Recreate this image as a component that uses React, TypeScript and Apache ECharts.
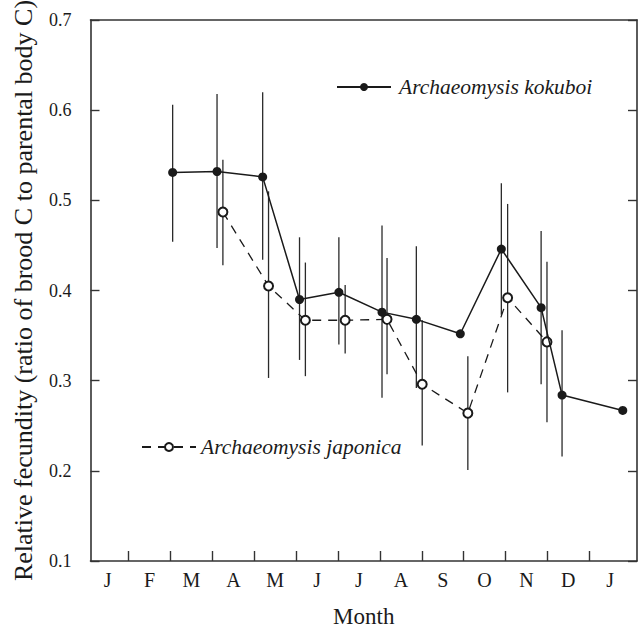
import React, { useEffect, useRef } from "react";
import * as echarts from "echarts";

const monthLabels = ["J", "F", "M", "A", "M", "J", "J", "A", "S", "O", "N", "D", "J"];
const yTicks = [0.1, 0.2, 0.3, 0.4, 0.5, 0.6, 0.7];

const kokuboiName = "Archaeomysis kokuboi";
const kokuboiMonth = [2.05, 3.11, 4.2, 5.08, 6.02, 7.05, 7.87, 8.92, 9.9, 10.85, 11.35, 12.8];
const kokuboiMean = [0.531, 0.532, 0.526, 0.39, 0.398, 0.376, 0.368, 0.352, 0.446, 0.381, 0.284, 0.267];
const kokuboiLow = [0.454, 0.447, 0.434, 0.323, 0.34, 0.281, 0.292, null, 0.373, 0.296, 0.216, null];
const kokuboiHigh = [0.606, 0.618, 0.62, 0.459, 0.459, 0.472, 0.449, null, 0.519, 0.466, 0.356, null];

const japonicaName = "Archaeomysis japonica";
const japonicaMonth = [3.25, 4.34, 5.22, 6.17, 7.17, 8.01, 9.1, 10.05, 10.99];
const japonicaMean = [0.487, 0.405, 0.367, 0.367, 0.368, 0.296, 0.264, 0.392, 0.343];
const japonicaLow = [0.428, 0.303, 0.305, 0.33, 0.307, 0.228, 0.201, 0.287, 0.254];
const japonicaHigh = [0.545, 0.51, 0.431, 0.406, 0.436, 0.367, 0.327, 0.496, 0.432];

const FONT = "Liberation Serif, serif";
const INK = "#1a1a1a";
const AXIS = "#333";

function points(xs: number[], ys: number[]) {
  return xs.map((x, i) => [x, ys[i]]);
}
function bars(xs: number[], lo: (number | null)[], hi: (number | null)[]) {
  const out: number[][] = [];
  xs.forEach((x, i) => {
    const l = lo[i];
    const h = hi[i];
    if (l != null && h != null) out.push([x, l, h]);
  });
  return out;
}

const errorRender = (params: any, api: any) => {
  const x = api.value(0);
  const a = api.coord([x, api.value(1)]);
  const b = api.coord([x, api.value(2)]);
  return {
    type: "line",
    shape: { x1: a[0], y1: a[1], x2: b[0], y2: b[1] },
    style: { stroke: "#2a2a2a", lineWidth: 1.3 },
  };
};

export default function App() {
  const ref = useRef<HTMLDivElement>(null);
  useEffect(() => {
    if (!ref.current) return;
    const chart = echarts.init(ref.current, null, { renderer: "svg" });
    const tickVals = monthLabels.slice(1).map((_, i) => i + 1);
    const labelVals = monthLabels.map((_, i) => i + 0.5);
    chart.setOption({
      animation: false,
      backgroundColor: "#fff",
      textStyle: { fontFamily: FONT },
      grid: { left: 90.5, right: 2, top: 20, bottom: 65.7 },
      legend: [
        {
          data: [kokuboiName],
          left: 331,
          top: 71,
          itemWidth: 54,
          itemHeight: 10,
          textStyle: { fontFamily: FONT, fontSize: 21.5, fontStyle: "italic", color: INK, padding: [0, 0, 0, 3] },
        },
        {
          data: [japonicaName],
          left: 136,
          top: 431,
          itemWidth: 54,
          itemHeight: 10,
          textStyle: { fontFamily: FONT, fontSize: 21.5, fontStyle: "italic", color: INK },
        },
      ],
      xAxis: [
        {
          type: "value",
          min: 0.088,
          max: 13.14,
          name: "Month",
          nameLocation: "middle",
          nameGap: 44,
          nameTextStyle: { fontFamily: FONT, fontSize: 23, color: INK },
          splitLine: { show: false },
          axisLine: { lineStyle: { color: AXIS, width: 1.6 } },
          axisTick: {
            inside: true,
            length: 10,
            customValues: tickVals,
            lineStyle: { color: AXIS, width: 1.4 },
          },
          axisLabel: {
            customValues: labelVals,
            formatter: (v: number) => monthLabels[Math.floor(v)] ?? "",
            fontFamily: FONT,
            fontSize: 20,
            color: INK,
            margin: 9,
          },
        },
        {
          type: "value",
          position: "top",
          min: 0.088,
          max: 13.14,
          splitLine: { show: false },
          axisLine: { show: true, lineStyle: { color: AXIS, width: 1.6 } },
          axisTick: { show: false },
          axisLabel: { show: false },
        },
      ],
      yAxis: [
        {
          type: "value",
          min: yTicks[0],
          max: yTicks[yTicks.length - 1],
          interval: 0.1,
          name: "Relative fecundity (ratio of brood C to parental body C)",
          nameLocation: "middle",
          nameGap: 54,
          nameTextStyle: { fontFamily: FONT, fontSize: 26, color: INK },
          splitLine: { show: false },
          axisLine: { show: true, lineStyle: { color: AXIS, width: 1.6 } },
          axisTick: { inside: true, length: 9, lineStyle: { color: AXIS, width: 1.4 } },
          axisLabel: {
            formatter: (v: number) => v.toFixed(1),
            fontFamily: FONT,
            fontSize: 18,
            color: INK,
            margin: 19,
          },
        },
        {
          type: "value",
          position: "right",
          min: yTicks[0],
          max: yTicks[yTicks.length - 1],
          interval: 0.1,
          splitLine: { show: false },
          axisLine: { show: true, lineStyle: { color: AXIS, width: 1.6 } },
          axisTick: { inside: true, length: 9, lineStyle: { color: AXIS, width: 1.4 } },
          axisLabel: { show: false },
        },
      ],
      series: [
        {
          type: "custom",
          name: "kokuboi error",
          renderItem: errorRender,
          data: bars(kokuboiMonth, kokuboiLow, kokuboiHigh),
          encode: { x: 0, y: [1, 2] },
          z: 1,
          silent: true,
        },
        {
          type: "custom",
          name: "japonica error",
          renderItem: errorRender,
          data: bars(japonicaMonth, japonicaLow, japonicaHigh),
          encode: { x: 0, y: [1, 2] },
          z: 1,
          silent: true,
        },
        {
          type: "line",
          name: japonicaName,
          data: points(japonicaMonth, japonicaMean),
          symbol: "emptyCircle",
          symbolSize: 9,
          lineStyle: { color: INK, width: 1.3, type: [9, 7] },
          itemStyle: { color: INK, borderColor: INK, borderWidth: 1.2 },
          z: 3,
        },
        {
          type: "line",
          name: kokuboiName,
          data: points(kokuboiMonth, kokuboiMean),
          symbol: "circle",
          symbolSize: 9,
          lineStyle: { color: INK, width: 1.5 },
          itemStyle: { color: INK },
          z: 4,
        },
      ],
    });
    return () => chart.dispose();
  }, []);
  return (
    <div
      ref={ref}
      style={{ position: "fixed", left: 0, top: 0, width: 639, height: 633, background: "#fff" }}
    />
  );
}
